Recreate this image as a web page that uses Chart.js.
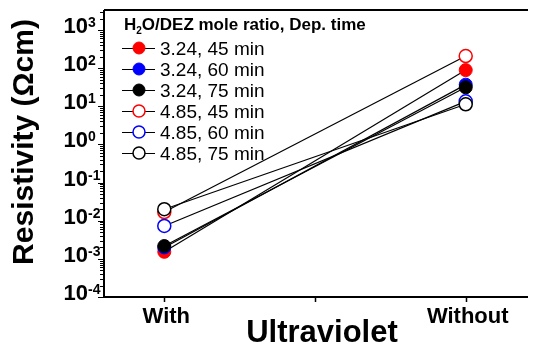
<!DOCTYPE html>
<html>
<head>
<meta charset="utf-8">
<script src="https://cdn.jsdelivr.net/npm/chart.js@4.4.1/dist/chart.umd.min.js"></script>
<style>
	html, body { margin: 0; padding: 0; background: #fff; }
	#wrap { width: 534px; height: 345px; }
</style>
</head>
<body>
<div id="wrap"><canvas id="resChart" width="534" height="345"></canvas></div>
<script>
// categories on the x axis (With = 0, Without = 1)
const categories = ['With', 'Without'];
const xPositions = [0, 1];

// legend labels
const seriesLabels = [
	'3.24, 45 min',
	'3.24, 60 min',
	'3.24, 75 min',
	'4.85, 45 min',
	'4.85, 60 min',
	'4.85, 75 min',
];

// resistivity values (Ohm cm)
const r324_45 = [0.00153, 89];
const r324_60 = [0.00199, 37];
const r324_75 = [0.00217, 31.5];
const r485_45 = [0.0169, 208];
const r485_60 = [0.00728, 13.5];
const r485_75 = [0.020, 11.3];

const seriesValues = [r324_45, r324_60, r324_75, r485_45, r485_60, r485_75];
const seriesColors = ['#ff0000', '#0000ff', '#000000', '#ff0000', '#0000ff', '#000000'];
const seriesFilled = [true, true, true, false, false, false];

// y axis decades shown as 10^n
const yExponents = [-4, -3, -2, -1, 0, 1, 2, 3];

const FONT = '"Liberation Sans", Arial, Helvetica, sans-serif';

const datasets = seriesValues.map((vals, i) => ({
	label: seriesLabels[i],
	data: vals.map((v, j) => ({ x: xPositions[j], y: v })),
	borderColor: '#000000',
	borderWidth: 1.2,
	pointRadius: 6.5,
	pointBorderWidth: seriesFilled[i] ? 1 : 1.5,
	pointBackgroundColor: seriesFilled[i] ? seriesColors[i] : '#ffffff',
	pointBorderColor: seriesColors[i],
	order: seriesValues.length - i, // later series on top
	tension: 0,
}));

// axes, tick labels, titles and legend drawn around the chart area
const decorPlugin = {
	id: 'decor',
	afterDraw(chart) {
		const { ctx, chartArea: a, scales } = chart;
		const xs = scales.x, ys = scales.y;
		ctx.save();

		// frame: left, bottom, top
		ctx.strokeStyle = '#000';
		ctx.lineWidth = 2;
		ctx.beginPath();
		ctx.moveTo(a.left, a.top);
		ctx.lineTo(a.right + 2, a.top);
		ctx.moveTo(a.left, a.top);
		ctx.lineTo(a.left, a.bottom);
		ctx.lineTo(a.right + 2, a.bottom);
		ctx.stroke();

		// y ticks (major + minor), outside
		ctx.lineWidth = 1;
		ctx.beginPath();
		for (let e = -4; e <= 3; e++) {
			for (let m = 1; m <= 9; m++) {
				const v = m * Math.pow(10, e);
				if (v > ys.max) break;
				const py = Math.round(ys.getPixelForValue(v)) + 0.5;
				const len = m === 1 ? 5 : 3;
				ctx.moveTo(a.left - 1, py);
				ctx.lineTo(a.left - 1 - len, py);
			}
		}
		ctx.stroke();

		// y tick labels 10^n
		ctx.fillStyle = '#000';
		ctx.textBaseline = 'alphabetic';
		yExponents.forEach((e) => {
			const py = ys.getPixelForValue(Math.pow(10, e));
			ctx.font = 'bold 22px ' + FONT;
			ctx.textAlign = 'right';
			ctx.fillText('10', 88, py + 3);
			ctx.font = 'bold 14px ' + FONT;
			ctx.textAlign = 'left';
			ctx.fillText(e < 0 ? '-' + Math.abs(e) : String(e), 88, py - 3);
		});

		// x ticks
		ctx.lineWidth = 1.5;
		ctx.beginPath();
		[0, 0.5, 1].forEach((v) => {
			const px = Math.round(xs.getPixelForValue(v)) + 0.5;
			ctx.moveTo(px, a.bottom + 1);
			ctx.lineTo(px, a.bottom + 5);
		});
		ctx.stroke();

		// x tick labels
		ctx.font = 'bold 22px ' + FONT;
		ctx.textAlign = 'center';
		categories.forEach((c, i) => {
			ctx.fillText(c, xs.getPixelForValue(xPositions[i]) + 2, 323);
		});

		// axis titles
		ctx.font = 'bold 31px ' + FONT;
		ctx.fillText('Ultraviolet', 322, 342);
		ctx.save();
		ctx.translate(33, 142);
		ctx.rotate(-Math.PI / 2);
		ctx.font = 'bold 30px ' + FONT;
		ctx.fillText('Resistivity (\u03A9cm)', 0, 0);
		ctx.restore();

		// legend title with subscript
		ctx.textAlign = 'left';
		let tx = 124;
		ctx.font = 'bold 17px ' + FONT;
		ctx.fillText('H', tx, 30);
		tx += ctx.measureText('H').width;
		ctx.font = 'bold 10px ' + FONT;
		ctx.fillText('2', tx, 34);
		tx += ctx.measureText('2').width;
		ctx.font = 'bold 17px ' + FONT;
		ctx.fillText('O/DEZ mole ratio, Dep. time', tx, 30);

		// legend entries
		chart.data.datasets.forEach((ds, i) => {
			const cy = 48 + i * 21;
			ctx.strokeStyle = '#000';
			ctx.lineWidth = 1;
			ctx.beginPath();
			ctx.moveTo(122, cy + 0.5);
			ctx.lineTo(155, cy + 0.5);
			ctx.stroke();
			ctx.beginPath();
			ctx.arc(139, cy, 6, 0, Math.PI * 2);
			ctx.fillStyle = ds.pointBackgroundColor;
			ctx.fill();
			ctx.lineWidth = ds.pointBorderWidth;
			ctx.strokeStyle = ds.pointBorderColor;
			ctx.stroke();
			ctx.fillStyle = '#000';
			ctx.font = '19px ' + FONT;
			ctx.fillText(ds.label, 160, cy + 7);
		});

		ctx.restore();
	},
};

const ctx = document.getElementById('resChart').getContext('2d');
const resChart = new Chart(ctx, {
	type: 'line',
	data: { datasets },
	options: {
		responsive: false,
		animation: false,
		events: [],
		layout: { padding: { left: 104, top: 10, right: 0, bottom: 48 } },
		plugins: {
			legend: { display: false },
			tooltip: { enabled: false },
		},
		scales: {
			x: {
				type: 'linear',
				min: -0.2,
				max: 1.2,
				display: false,
			},
			y: {
				type: 'logarithmic',
				min: 1e-4,
				max: 3350,
				display: false,
			},
		},
	},
	plugins: [decorPlugin],
});
</script>
</body>
</html>
